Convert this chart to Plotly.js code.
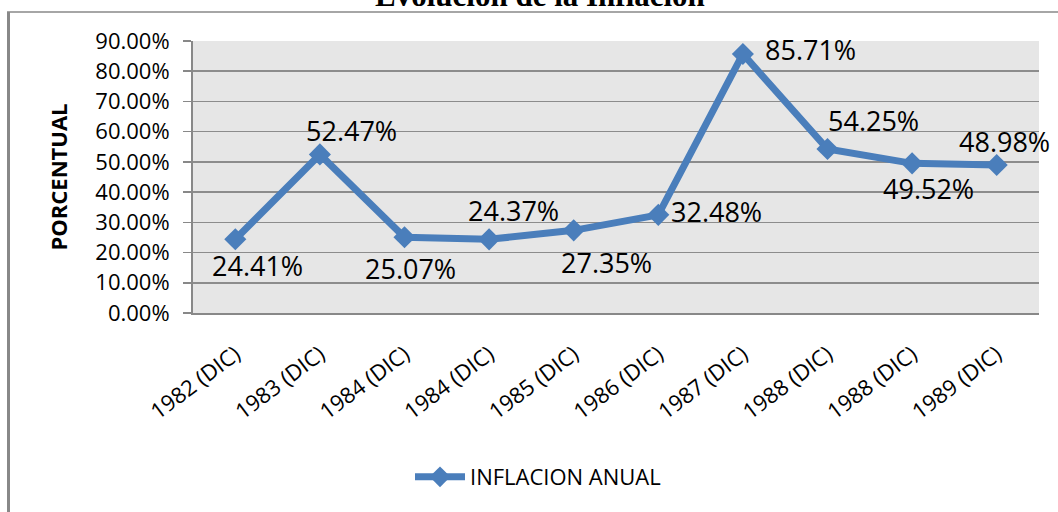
<!DOCTYPE html>
<html>
<head>
<meta charset="utf-8">
<script src="https://cdn.plot.ly/plotly-3.0.1.min.js"></script>
<style>
html,body{margin:0;padding:0;background:#fff;overflow:hidden;}
#chart{width:1058px;height:512px;}
</style>
</head>
<body>
<div id="chart"></div>
<script>
const categories = ["1982 (DIC)","1983 (DIC)","1984 (DIC)","1984 (DIC)","1985 (DIC)","1986 (DIC)","1987 (DIC)","1988 (DIC)","1988 (DIC)","1989 (DIC)"];
const inflacion = [24.41, 52.47, 25.07, 24.37, 27.35, 32.48, 85.71, 54.25, 49.52, 48.98];
const yTicks = [0,10,20,30,40,50,60,70,80,90];
const seriesName = "INFLACION ANUAL";
const chartTitle = "Evolución de la Inflación";
const yTitle = "PORCENTUAL";

// label offsets in pixels (style only)
const labelShift = [[22,-26],[32,24],[6,-31],[24,29],[33,-32],[58,3],[68,4],[46,29],[16,-25],[8,23]];

const xIdx = categories.map((c,i)=>i);
const fmt = v => v.toFixed(2) + "%";

const trace = {
  x: xIdx, y: inflacion, type: "scatter", mode: "lines+markers", name: seriesName,
  line: {color: "#4a7ebb", width: 7},
  marker: {symbol: "diamond", size: 17, color: "#4a7ebb"},
  cliponaxis: false
};

const annotations = inflacion.map((v,i)=>({
  x: xIdx[i], y: v, xref: "x", yref: "y", text: fmt(v), showarrow: false,
  xshift: labelShift[i][0], yshift: labelShift[i][1],
  font: {family: "Open Sans", size: 27, color: "#000"}
}));
annotations.push({
  x: (540-193)/846, y: 1.096, xref: "paper", yref: "paper", yanchor: "bottom", showarrow: false,
  text: "<b>" + chartTitle + "</b>",
  font: {family: "Liberation Serif", size: 31, color: "#000"}
});

const layout = {
  width: 1058, height: 512,
  margin: {l: 193, r: 19, t: 41, b: 199},
  paper_bgcolor: "#fff", plot_bgcolor: "#e6e6e6",
  showlegend: true,
  legend: {x: (538-193)/846, xanchor: "center", y: -0.603, yanchor: "middle", orientation: "h",
           font: {family: "Open Sans", size: 22, color: "#000"}, bgcolor: "rgba(0,0,0,0)", itemwidth: 50},
  xaxis: {
    type: "linear", range: [-0.5, 9.5], tickvals: xIdx, ticktext: categories, tickangle: -37,
    showgrid: false, zeroline: false, showline: true, linecolor: "#888", linewidth: 2,
    ticks: "", ticklabelstandoff: 18, tickfont: {family: "Open Sans", size: 22, color: "#000"}, fixedrange: true
  },
  yaxis: {
    range: [0, 90], tickvals: yTicks, ticktext: yTicks.map(fmt),
    showgrid: true, gridcolor: "#8c8c8c", gridwidth: 1.5, zeroline: false,
    showline: true, linecolor: "#888", linewidth: 2, ticks: "outside", ticklen: 8, tickcolor: "#888", tickwidth: 1.5,
    ticklabelstandoff: 9,
    tickfont: {family: "Open Sans", size: 22, color: "#000"},
    title: {text: "<b>" + yTitle + "</b>", font: {family: "Open Sans", size: 22, color: "#000"}, standoff: 22},
    fixedrange: true
  },
  annotations: annotations,
  shapes: [
    {type: "line", xref: "paper", yref: "paper", x0: (8.5-193)/846, x1: (8.5-193)/846, y0: (313-12)/272, y1: (313-520)/272, line: {color: "#888", width: 3}},
    {type: "line", xref: "paper", yref: "paper", x0: (7-193)/846, x1: (1070-193)/846, y0: (313-12)/272, y1: (313-12)/272, line: {color: "#888", width: 1.5}}
  ]
};

Plotly.newPlot("chart", [trace], layout, {displayModeBar: false, staticPlot: true});
</script>
</body>
</html>
